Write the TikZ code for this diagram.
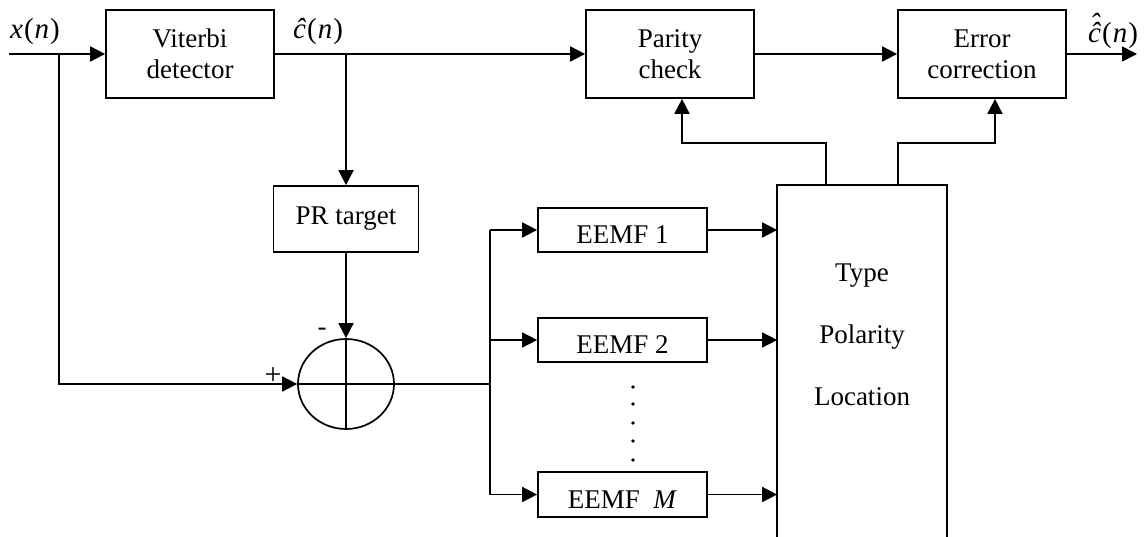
\documentclass[tikz,border=0pt]{standalone}
\usepackage{fontspec}
\setmainfont{Liberation Serif}
\usetikzlibrary{arrows.meta,shapes.geometric}
\newcommand\dblhat{\makebox[0pt][l]{\raisebox{0.3em}{\hspace{0.06em}\textit{ˆ}}}\textit{ĉ}}
\begin{document}
\begin{tikzpicture}[x=1pt,y=-1pt, line width=1.7pt,
  font=\fontsize{27}{31}\selectfont,
  box/.style={draw, rectangle, inner sep=0pt, align=center},
  arr/.style={-{Triangle[length=15pt,width=15pt]}},
  lbl/.style={inner sep=0pt},
  mlbl/.style={inner sep=0pt, font=\fontsize{29}{31}\selectfont},
  dotmark/.style={circle, fill, inner sep=0pt, minimum size=3.8pt}]
\useasboundingbox (0,0) rectangle (1144,537);

% blocks
\node[box, minimum width=168pt, minimum height=88pt] (vit) at (190,54) {Viterbi\\detector};
\node[box, minimum width=168pt, minimum height=88pt] (par) at (670,54) {Parity\\check};
\node[box, minimum width=168pt, minimum height=88pt] (err) at (982,54) {Error\\correction};
\node[box, minimum width=145pt, minimum height=66pt] (pr) at (346,219) {PR target};
\node[draw, ellipse, inner sep=0pt, minimum width=96pt, minimum height=90pt] (sum) at (346,384) {};
\node[box, minimum width=169pt, minimum height=44pt] (e1) at (622.5,230) {};
\node[box, minimum width=169pt, minimum height=44pt] (e2) at (622.5,340) {};
\node[box, minimum width=169pt, minimum height=45pt] (em) at (622.5,494.5) {};
\node[lbl, anchor=base] (e1t) at (622.5,244) {EEMF 1};
\node[lbl, anchor=base] (e2t) at (622.5,354) {EEMF 2};
\node[lbl, anchor=base] (emt) at (622.5,508) {EEMF~~\textit{M}};

% big box (bottom edge lies below the picture)
\node[rectangle, inner sep=0pt, minimum width=168pt, minimum height=360pt] (big) at (862,366) {};
\draw (big.south west) -- (big.north west) -- (big.north east) -- (big.south east);
\node[lbl, anchor=base] (ty) at (862,282) {Type};
\node[lbl, anchor=base] (po) at (862,344) {Polarity};
\node[lbl, anchor=base] (lo) at (862,406) {Location};

% labels
\node[mlbl] (xl) at (35,32) {\textit{x}\kern1pt(\kern1pt\textit{n}\kern1pt)};
\node[mlbl] (cl) at (318,32) {\textit{ĉ}\kern1pt(\kern1pt\textit{n}\kern1pt)};
\node[mlbl] (ccl) at (1113,31) {\dblhat\kern1pt(\kern1pt\textit{n}\kern1pt)};
\node[lbl, font=\fontsize{30}{30}\selectfont] (plus) at (273,376) {+};
\node[lbl] (minus) at (322,332) {-};

% coordinates
\coordinate (in) at (9,54);
\coordinate (b1) at (59,54);
\coordinate (b2) at (pr.north |- vit.east);
\coordinate (sp) at (490,384);
\coordinate (out) at (1137,54);
\coordinate (t1) at (826,186);
\coordinate (t2) at (898,186);

% connectors
\draw[arr] (in) -- (vit.west);
\draw[arr] (b1) |- (sum.west);
\draw[arr] (vit.east) -- (par.west);
\draw[arr] (b2) -- (pr.north);
\draw[arr] (pr.south) -- (sum.north);
\draw (sum.north) -- (sum.south);
\draw (sum.west) -- (sum.east);
\draw (sum.east) -- (sp);
\draw (sp |- e1.west) -- (sp |- em.west);
\draw[arr] (sp |- e1.west) -- (e1.west);
\draw[arr] (sp |- e2.west) -- (e2.west);
\draw[arr] (sp |- em.west) -- (em.west);
\draw[arr] (e1.east) -- (e1.east -| big.west);
\draw[arr] (e2.east) -- (e2.east -| big.west);
\draw[arr] (em.east) -- (em.east -| big.west);
\draw[arr] (par.east) -- (err.west);
\draw[arr] (err.east) -- (out);
\draw[arr] (t1) -- (826,143) -| ([xshift=12pt]par.south);
\draw[arr] (t2) -- (898,143) -| ([xshift=13pt]err.south);

% dots
\foreach \yy/\nm in {387/d1,404/d2,423/d3,441/d4,460/d5}
  \node[dotmark] (\nm) at (633,\yy) {};
\end{tikzpicture}
\end{document}
